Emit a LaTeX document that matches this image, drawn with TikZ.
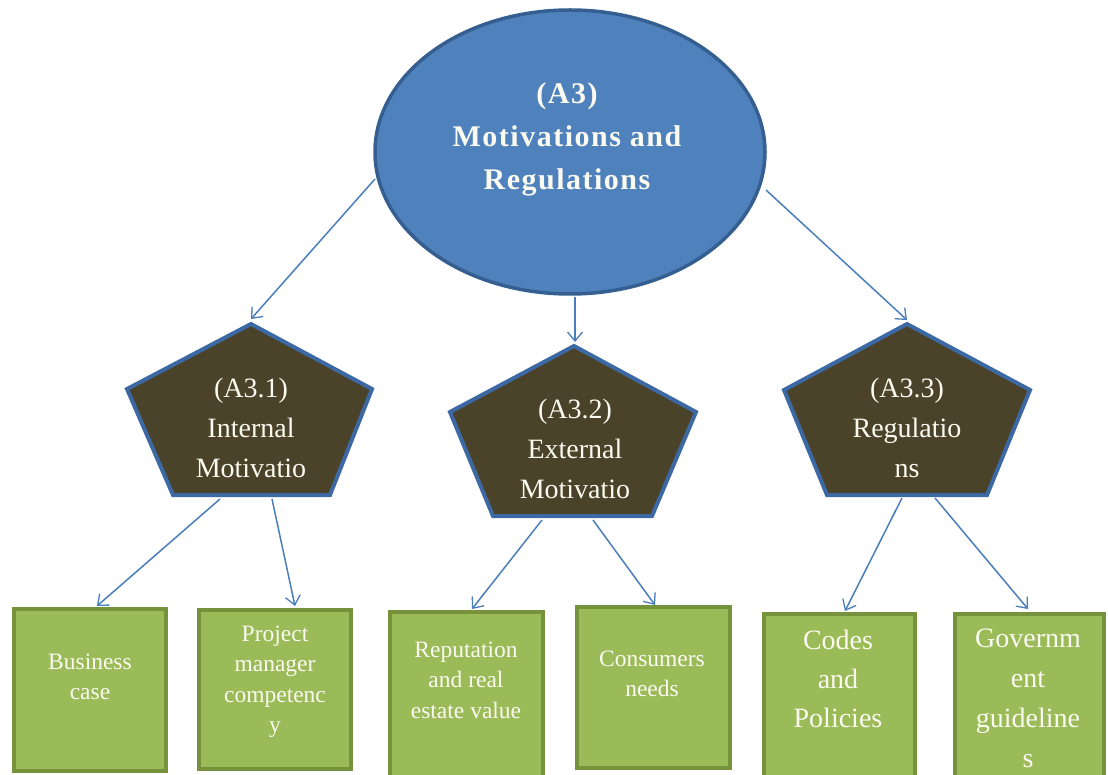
\documentclass[tikz,border=0pt]{standalone}
\usepackage{fontspec}
\setmainfont{Liberation Serif}
\newfontfamily\spacedserif[LetterSpace=5]{Liberation Serif}
\usetikzlibrary{arrows.meta,shapes.geometric}
\definecolor{rootfill}{HTML}{4F81BD}
\definecolor{rootline}{HTML}{365F91}
\definecolor{pentfill}{HTML}{4A432A}
\definecolor{pentline}{HTML}{3C69A3}
\definecolor{boxfill}{HTML}{9BBB59}
\definecolor{boxline}{HTML}{76923C}
\definecolor{arrowblue}{HTML}{4A7EBB}
\definecolor{lbl}{HTML}{FBFAF0}
\tikzset{
  rootshape/.style={ellipse, draw=rootline, fill=rootfill, line width=3.5pt, inner sep=0pt, outer sep=0pt},
  pentshape/.style={draw=pentline, fill=pentfill, line width=4pt, line join=miter},
  greenbox/.style={rectangle, draw=boxline, fill=boxfill, line width=4pt, inner sep=0pt, outer sep=0pt},
  bigtext/.style={text=lbl, align=center, font=\fontsize{28}{40}\selectfont, inner sep=0pt},
  smalltext/.style={text=lbl, align=center, font=\fontsize{23.5}{30.5}\selectfont, inner sep=0pt},
  roottext/.style={text=lbl, align=center, font=\spacedserif\bfseries\fontsize{30}{43}\selectfont, inner sep=0pt},
  link/.style={draw=arrowblue, line width=1.5pt, -{Straight Barb[length=9pt,width=15pt,line width=1.3pt]}}
}
\begin{document}
\begin{tikzpicture}[x=1pt,y=-1pt]
\useasboundingbox (0,0) rectangle (1108,775);

% top ellipse
\node[rootshape, minimum width=390pt, minimum height=284pt] (root) at (570,152) {};
\node[roottext] (roottxt) at (567,139) {(A3)\\Motivations and\\Regulations};

% pentagons
\draw[pentshape] (251,324) -- (372,389) -- (330,495) -- (173,495) -- (127,389) -- cycle;
\draw[pentshape] (574,346) -- (696,412) -- (652,516) -- (493,516) -- (450,412) -- cycle;
\draw[pentshape] (907,324) -- (1030,390) -- (987,495) -- (827,495) -- (784,390) -- cycle;
\node[bigtext] (p1) at (251,428) {(A3.1)\\Internal\\Motivatio};
\node[bigtext] (p2) at (575,449) {(A3.2)\\External\\Motivatio};
\node[bigtext] (p3) at (907,428) {(A3.3)\\Regulatio\\ns};

% leaf boxes
\node[greenbox, minimum width=152pt, minimum height=162pt] (b1) at (90,690) {};
\node[greenbox, minimum width=152pt, minimum height=159pt] (b2) at (275,689.5) {};
\node[greenbox, minimum width=153pt, minimum height=178pt] (b3) at (466.5,701) {};
\node[greenbox, minimum width=153pt, minimum height=161pt] (b4) at (653.5,687.5) {};
\node[greenbox, minimum width=151pt, minimum height=176pt] (b5) at (839.5,702) {};
\node[greenbox, minimum width=149pt, minimum height=176pt] (b6) at (1029.5,702) {};
\node[smalltext] (t1) at (90,677) {Business\\case};
\node[smalltext] (t2) at (275,682) {Project\\manager\\competenc\\y};
\node[smalltext] (t3) at (466,680) {Reputation\\and real\\estate value};
\node[smalltext] (t4) at (652,674) {Consumers\\needs};
\node[bigtext, font=\fontsize{28}{39}\selectfont] (t5) at (838,679) {Codes\\and\\Policies};
\node[bigtext] (t6) at (1028,698) {Governm\\ent\\guideline\\s};

% connector end points
\coordinate (r1) at (375,179);
\coordinate (r2) at (575,297);
\coordinate (r3) at (766,190);
\coordinate (p1top) at (251,319);
\coordinate (p2top) at (575,342);
\coordinate (p3top) at (907,320);
\coordinate (p1a) at (220,499);
\coordinate (p1b) at (272,499);
\coordinate (p2a) at (542,520);
\coordinate (p2b) at (593,520);
\coordinate (p3a) at (902,498);
\coordinate (p3b) at (935,498);
\coordinate (b1in) at (97,606);
\coordinate (b2in) at (295,606);
\coordinate (b3in) at (472,609);
\coordinate (b4in) at (655,605);
\coordinate (b5in) at (845,611);
\coordinate (b6in) at (1028,609);

% connectors
\draw[link] (r1) -- (p1top);
\draw[link] (r2) -- (p2top);
\draw[link] (r3) -- (p3top);
\draw[link] (p1a) -- (b1in);
\draw[link] (p1b) -- (b2in);
\draw[link] (p2a) -- (b3in);
\draw[link] (p2b) -- (b4in);
\draw[link] (p3a) -- (b5in);
\draw[link] (p3b) -- (b6in);
\end{tikzpicture}
\end{document}
